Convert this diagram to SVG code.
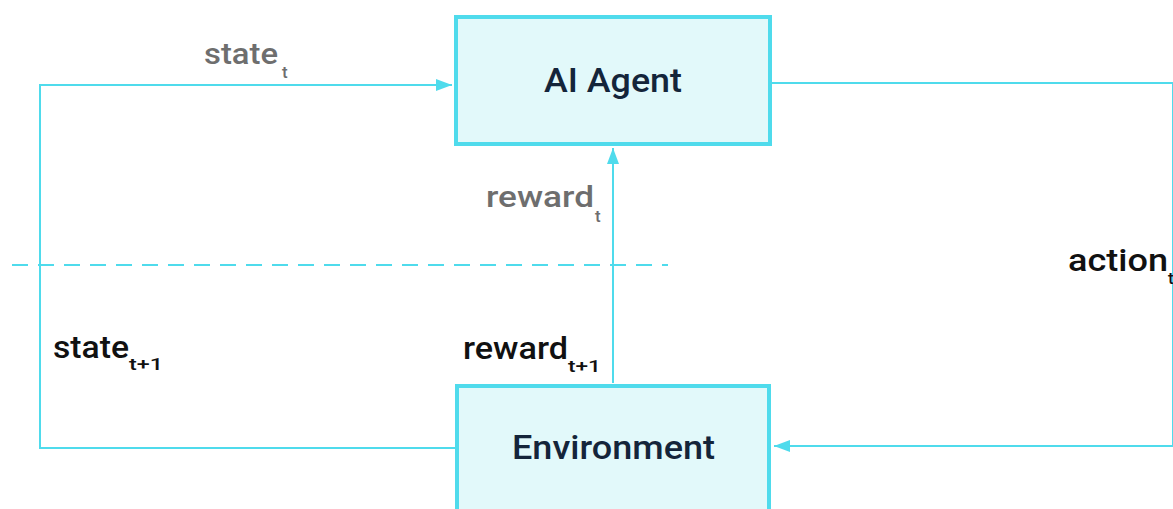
<svg xmlns="http://www.w3.org/2000/svg" width="1173" height="509" viewBox="0 0 1173 509">
<style>
.box{fill:#e2f9fa;stroke:#4fdbec;stroke-width:4}
.ln{fill:none;stroke:#4fdbec;stroke-width:2}
.dash{fill:none;stroke:#4fdbec;stroke-width:2;stroke-dasharray:16 10}
.nt{font-family:Roboto,"Liberation Sans",sans-serif;font-weight:500;font-size:33px;fill:#14253a}
.gl{font-family:Roboto,"Liberation Sans",sans-serif;font-weight:500;font-size:30px;fill:#6e6e6e}
.bl{font-family:Roboto,"Liberation Sans",sans-serif;font-weight:500;font-size:32px;fill:#111}
.sub{font-size:17px}
</style>
<defs>
<marker id="ahv" markerWidth="16" markerHeight="12" refX="16" refY="6" orient="auto" markerUnits="userSpaceOnUse">
<path d="M0,0 L16,6 L0,12 z" fill="#4fdbec"/>
</marker>
</defs>
<g id="connectors">
<line class="dash" x1="12" y1="265" x2="668" y2="265"/>
<polyline class="ln" points="455,448 40,448 40,85 452,85" marker-end="url(#ahv)"/>
<line class="ln" x1="613" y1="383" x2="613" y2="148" marker-end="url(#ahv)"/>
<polyline class="ln" points="772,83 1173,83 1173,446 774,446" marker-end="url(#ahv)"/>
</g>
<g id="agent">
<rect class="box" x="456" y="17" width="314" height="127"/>
<text class="nt" x="544" y="92" textLength="138" lengthAdjust="spacingAndGlyphs">AI Agent</text>
</g>
<g id="environment">
<rect class="box" x="457" y="386" width="312" height="130"/>
<text class="nt" x="512" y="459" textLength="203" lengthAdjust="spacingAndGlyphs">Environment</text>
</g>
<g id="labels">
<text class="gl" x="204" y="64" textLength="74" lengthAdjust="spacingAndGlyphs">state</text>
<text class="gl sub" x="282" y="78">t</text>
<text class="gl" x="486" y="207" textLength="108" lengthAdjust="spacingAndGlyphs">reward</text>
<text class="gl sub" x="595" y="222">t</text>
<text class="bl" x="53" y="358" textLength="76" lengthAdjust="spacingAndGlyphs">state</text>
<text class="bl sub" x="129" y="370" textLength="34" lengthAdjust="spacingAndGlyphs">t+1</text>
<text class="bl" x="463" y="359" textLength="105" lengthAdjust="spacingAndGlyphs">reward</text>
<text class="bl sub" x="568" y="372" textLength="33" lengthAdjust="spacingAndGlyphs">t+1</text>
<text class="bl" x="1068" y="271" textLength="100" lengthAdjust="spacingAndGlyphs">action</text>
<text class="bl sub" x="1168" y="284">t</text>
</g>
</svg>
